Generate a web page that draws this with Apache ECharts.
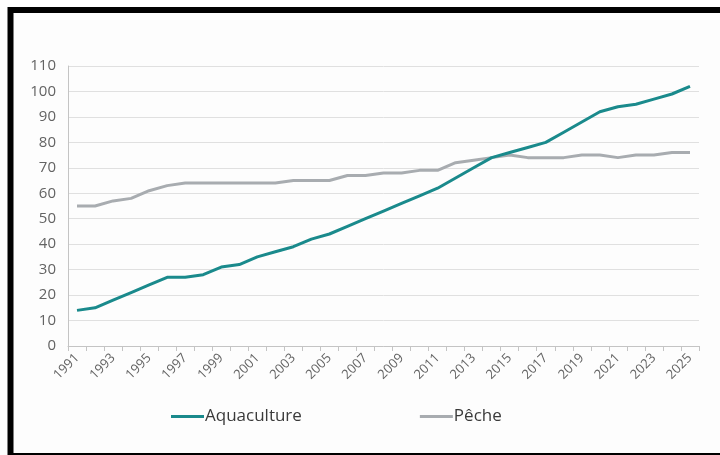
<!DOCTYPE html>
<html>
<head>
<meta charset="utf-8">
<script src="https://cdn.jsdelivr.net/npm/echarts@6/dist/echarts.min.js"></script>
<style>
  html, body { margin: 0; padding: 0; background: #fdfdfd; }
  #chart { width: 720px; height: 455px; }
</style>
</head>
<body>
<div id="chart"></div>
<script>
// Years 1991–2025
const years = [];
for (let y = 1991; y <= 2025; y++) years.push(String(y));

// Production (millions of tonnes)
const aquaculture = [14, 15, 18, 21, 24, 27, 27, 28, 31, 32,
                     35, 37, 39, 42, 44, 47, 50, 53, 56, 59,
                     62, 66, 70, 74, 76, 78, 80, 84, 88, 92,
                     94, 95, 97, 99, 102];
const peche = [55, 55, 57, 58, 61, 63, 64, 64, 64, 64,
               64, 64, 65, 65, 65, 67, 67, 68, 68, 69,
               69, 72, 73, 74, 75, 74, 74, 74, 75, 75,
               74, 75, 75, 76, 76];

const seriesNames = ['Aquaculture', 'Pêche'];
const colors = ['#1a8a8c', '#a8acb0'];

const chart = echarts.init(document.getElementById('chart'));
const font = '"Open Sans", "Noto Sans", sans-serif';

chart.setOption({
  backgroundColor: '#fdfdfd',
  animation: false,
  color: colors,
  grid: { left: 68, right: 21, top: 66, bottom: 109, containLabel: false },
  legend: {
    data: seriesNames,
    bottom: 25,
    left: 166,
    itemWidth: 33,
    itemHeight: 3,
    itemGap: 118,
    icon: 'rect',
    textStyle: { color: '#3a3a3a', fontSize: 17, fontFamily: font, padding: [0, 0, 0, -4] }
  },
  xAxis: {
    type: 'category',
    data: years,
    boundaryGap: true,
    axisLine: { lineStyle: { color: '#c4c4c4', width: 1 } },
    axisTick: { show: true, interval: 0, length: 5, lineStyle: { color: '#c4c4c4' } },
    axisLabel: {
      interval: 1,
      rotate: 45,
      color: '#636363',
      fontSize: 13,
      fontFamily: font,
      margin: 10
    },
    splitLine: { show: false }
  },
  yAxis: {
    type: 'value',
    min: 0,
    max: 110,
    interval: 10,
    axisLine: { show: true, lineStyle: { color: '#c4c4c4', width: 1 } },
    axisTick: { show: false },
    axisLabel: { color: '#636363', fontSize: 15, fontFamily: font, margin: 12 },
    splitLine: { lineStyle: { color: '#e0e0e0', width: 1 } }
  },
  series: [
    {
      name: seriesNames[0],
      type: 'line',
      data: aquaculture,
      symbol: 'none',
      lineStyle: { width: 3, color: colors[0] },
      z: 3
    },
    {
      name: seriesNames[1],
      type: 'line',
      data: peche,
      symbol: 'none',
      lineStyle: { width: 3, color: colors[1] },
      z: 2
    }
  ],
  graphic: [
    {
      type: 'rect',
      shape: { x: 10.5, y: 10, width: 720, height: 446 },
      style: { fill: 'none', stroke: '#000', lineWidth: 6 },
      silent: true,
      z: 100
    }
  ]
});
</script>
</body>
</html>
